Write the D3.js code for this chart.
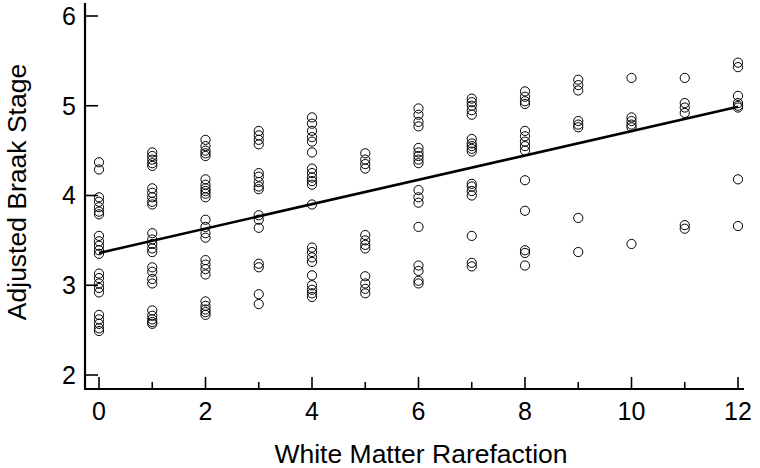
<!DOCTYPE html>
<html>
<head>
<meta charset="utf-8">
<script src="https://cdn.jsdelivr.net/npm/d3@7"></script>
<style>
  html, body { margin: 0; padding: 0; background: #fff; }
  svg { display: block; }
  text { font-family: "Liberation Sans", Arial, sans-serif; fill: #000; }
</style>
</head>
<body>
<svg id="chart" width="760" height="468"></svg>
<script>
// ---- Data ----
const wmrLevels = [0, 1, 2, 3, 4, 5, 6, 7, 8, 9, 10, 11, 12];
const braakStages = [
  [4.37, 4.29, 3.98, 3.93, 3.87, 3.82, 3.79, 3.55, 3.49, 3.44, 3.39, 3.35, 3.13, 3.08, 3.02, 2.97, 2.92, 2.67, 2.62, 2.57, 2.52, 2.49],
  [4.48, 4.44, 4.40, 4.36, 4.33, 4.08, 4.03, 3.98, 3.93, 3.90, 3.58, 3.51, 3.46, 3.41, 3.37, 3.20, 3.15, 3.07, 3.02, 2.72, 2.66, 2.62, 2.59, 2.57],
  [4.62, 4.55, 4.50, 4.47, 4.44, 4.18, 4.12, 4.08, 4.05, 4.02, 3.98, 3.73, 3.65, 3.58, 3.53, 3.28, 3.23, 3.18, 3.12, 2.82, 2.77, 2.73, 2.70, 2.67],
  [4.72, 4.67, 4.62, 4.57, 4.25, 4.21, 4.15, 4.10, 4.07, 3.78, 3.73, 3.64, 3.24, 3.20, 2.90, 2.79],
  [4.87, 4.80, 4.72, 4.65, 4.60, 4.48, 4.30, 4.25, 4.20, 4.16, 4.12, 3.90, 3.42, 3.37, 3.31, 3.26, 3.11, 3.00, 2.95, 2.91, 2.87],
  [4.47, 4.40, 4.35, 4.30, 3.56, 3.50, 3.45, 3.41, 3.10, 3.02, 2.96, 2.91],
  [4.97, 4.90, 4.82, 4.77, 4.53, 4.48, 4.44, 4.40, 4.36, 4.06, 3.98, 3.92, 3.65, 3.22, 3.16, 3.05, 3.02],
  [5.08, 5.04, 5.00, 4.95, 4.90, 4.63, 4.58, 4.55, 4.52, 4.49, 4.13, 4.10, 4.05, 4.00, 3.55, 3.25, 3.21],
  [5.16, 5.10, 5.05, 5.02, 4.72, 4.66, 4.60, 4.55, 4.50, 4.17, 3.83, 3.39, 3.36, 3.22],
  [5.29, 5.23, 5.17, 4.83, 4.79, 4.76, 3.75, 3.37],
  [5.31, 4.87, 4.83, 4.79, 4.76, 3.46],
  [5.31, 5.03, 4.98, 4.92, 3.67, 3.63],
  [5.48, 5.43, 5.11, 5.03, 5.00, 4.98, 4.18, 3.66]
];
const fitX = [0, 12];
const fitY = [3.36, 4.99];
const xTicks = [0, 1, 2, 3, 4, 5, 6, 7, 8, 9, 10, 11, 12];
const xTickLabels = [0, 2, 4, 6, 8, 10, 12];
const yTicks = [2, 3, 4, 5, 6];
const xTitle = "White Matter Rarefaction";
const yTitle = "Adjusted Braak Stage";

// ---- Drawing ----
const svg = d3.select("#chart");
const x = d3.scaleLinear().domain([0, 12]).range([99, 738]);
const y = d3.scaleLinear().domain([2, 6]).range([375, 16]);

const axisX0 = 85, axisY0 = 389;

// points
const pts = [];
wmrLevels.forEach((lv, i) => braakStages[i].forEach(v => pts.push([lv, v])));
svg.append("g").selectAll("circle").data(pts).join("circle")
  .attr("cx", d => x(d[0])).attr("cy", d => y(d[1])).attr("r", 4.6)
  .attr("fill", "none").attr("stroke", "#000").attr("stroke-width", 1);

// regression line
svg.append("path")
  .datum(fitX.map((v, i) => [v, fitY[i]]))
  .attr("d", d3.line().x(d => x(d[0])).y(d => y(d[1])))
  .attr("fill", "none").attr("stroke", "#000").attr("stroke-width", 2.6);

// axes lines
svg.append("line").attr("x1", axisX0).attr("x2", axisX0).attr("y1", 3).attr("y2", axisY0 + 1)
  .attr("stroke", "#000").attr("stroke-width", 2.2);
svg.append("line").attr("x1", axisX0 - 1).attr("x2", 744).attr("y1", axisY0).attr("y2", axisY0)
  .attr("stroke", "#000").attr("stroke-width", 2.2);

// y ticks (inward)
svg.append("g").selectAll("line").data(yTicks).join("line")
  .attr("x1", axisX0).attr("x2", axisX0 + 13)
  .attr("y1", d => y(d)).attr("y2", d => y(d))
  .attr("stroke", "#000").attr("stroke-width", 1.6);
svg.append("g").selectAll("text").data(yTicks).join("text")
  .attr("x", 76).attr("y", d => y(d)).attr("dy", "0.35em")
  .attr("text-anchor", "end").attr("font-size", 25).text(d => d);

// x ticks (inward, major/minor)
svg.append("g").selectAll("line").data(xTicks).join("line")
  .attr("x1", d => x(d)).attr("x2", d => x(d))
  .attr("y1", axisY0).attr("y2", d => axisY0 - (d % 2 === 0 ? 12 : 7))
  .attr("stroke", "#000").attr("stroke-width", 1.6);
svg.append("g").selectAll("text").data(xTickLabels).join("text")
  .attr("x", d => x(d)).attr("y", 420)
  .attr("text-anchor", "middle").attr("font-size", 25).text(d => d);

// titles
svg.append("text").attr("x", 421).attr("y", 463)
  .attr("text-anchor", "middle").attr("font-size", 26.5).text(xTitle);
svg.append("text").attr("transform", "translate(26,192) rotate(-90)")
  .attr("text-anchor", "middle").attr("font-size", 26.5).text(yTitle);
</script>
</body>
</html>
